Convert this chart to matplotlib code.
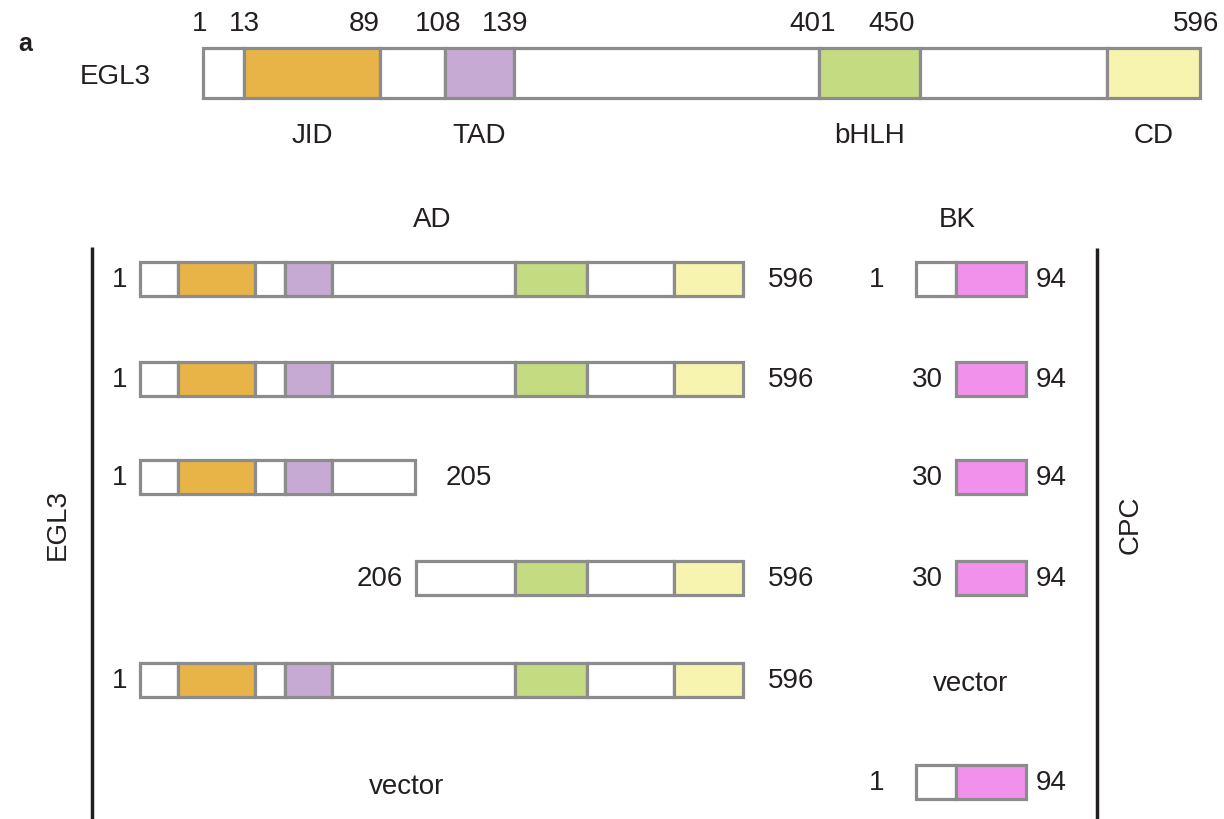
import numpy as np
import matplotlib.pyplot as plt
from matplotlib.patches import Rectangle

plt.rcParams['font.family'] = ['Liberation Sans', 'DejaVu Sans']

# domain map of EGL3 (amino acid positions)
EGL3_LEN = 596
DOMAIN_NAMES = ["JID", "TAD", "bHLH", "CD"]
DOMAIN_START = [13, 108, 401, 540]
DOMAIN_END = [89, 139, 450, 596]
DOMAIN_COLORS = ["#E8B447", "#C6AAD3", "#C4DB82", "#F7F4B0"]
TOP_TICKS = [1, 13, 89, 108, 139, 401, 450, 596]

# constructs for AD (EGL3) and BK (CPC)
AD_CONSTRUCTS = [(1, 596), (1, 596), (1, 205), (206, 596), (1, 596), None]
BK_CONSTRUCTS = [(1, 94), (30, 94), (30, 94), (30, 94), None, (1, 94)]
CPC_DOMAIN = (30, 94)
CPC_COLOR = "#F291EC"

# schematic (non-proportional) scales: amino acid -> drawing x
TOP_AA = [1, 13, 89, 108, 139, 401, 450, 540, 596]
TOP_X = [203, 244, 380, 445, 514, 819, 920, 1107, 1200]
LOW_AA = [1, 13, 89, 108, 139, 205, 401, 450, 540, 596]
LOW_X = [140, 178, 255, 285, 332, 415, 515, 587, 674, 743]
CPC_AA = [1, 30, 94]
CPC_X = [916, 956, 1026]

EDGE = "#8C8C8C"
TXT = "#231F20"
FS = 20


def draw_construct(ax, start, end, y, h, aa, xs, domains):
    sx = lambda v: np.interp(v, aa, xs)
    cuts = sorted(set([start, end] + [p for d in domains for p in d[:2] if start < p < end]))
    for a, b in zip(cuts[:-1], cuts[1:]):
        col = "white"
        for d0, d1, c in domains:
            if a >= d0 and b <= d1:
                col = c
        ax.add_patch(Rectangle((sx(a), y - h / 2), sx(b) - sx(a), h,
                               facecolor=col, edgecolor=EDGE, lw=2.3))


fig = plt.figure(figsize=(12.24, 8.2), dpi=100)
ax = fig.add_axes([0, 0, 1, 1])
ax.set_xlim(0, 1224)
ax.set_ylim(820, 0)
ax.axis('off')

egl3_domains = list(zip(DOMAIN_START, DOMAIN_END, DOMAIN_COLORS))
draw_construct(ax, 1, EGL3_LEN, 74, 50, TOP_AA, TOP_X, egl3_domains)

ax.text(18, 44, "a", fontsize=FS - 2, fontweight='bold', color=TXT, ha='left', va='center')
ax.text(115, 77, "EGL3", fontsize=FS, color=TXT, ha='center', va='center')
tick_off = {1: -3, 13: 0, 89: -16, 108: -7, 139: -9, 401: -6, 450: -28, 596: -4}
for t in TOP_TICKS:
    ax.text(np.interp(t, TOP_AA, TOP_X) + tick_off[t], 24, str(t), fontsize=FS,
            color=TXT, ha='center', va='center')
for name, s, e in zip(DOMAIN_NAMES, DOMAIN_START, DOMAIN_END):
    xc = (np.interp(s, TOP_AA, TOP_X) + np.interp(e, TOP_AA, TOP_X)) / 2
    ax.text(xc, 136, name, fontsize=FS, color=TXT, ha='center', va='center')

ax.text(432, 220, "AD", fontsize=FS, color=TXT, ha='center', va='center')
ax.text(957, 220, "BK", fontsize=FS, color=TXT, ha='center', va='center')

ax.plot([92, 92], [248, 820], color=TXT, lw=2.5, solid_capstyle='butt')
ax.plot([1097, 1097], [249, 820], color=TXT, lw=2.5, solid_capstyle='butt')
ax.text(58, 525, "EGL3", fontsize=FS, color=TXT, rotation=90, ha='center', va='center')
ax.text(1131, 525, "CPC", fontsize=FS, color=TXT, rotation=90, ha='center', va='center')

row_y = [280, 380, 478, 579, 681, 783]
for y, c in zip(row_y, AD_CONSTRUCTS):
    if c is None:
        ax.text(407, y + 4, "vector", fontsize=FS, color=TXT, ha='center', va='center')
        continue
    s, e = c
    draw_construct(ax, s, e, y, 34, LOW_AA, LOW_X, egl3_domains)
    ax.text(np.interp(s, LOW_AA, LOW_X) - 13, y, str(s), fontsize=FS, color=TXT,
            ha='right', va='center')
    ax.text(np.interp(e, LOW_AA, LOW_X) + (31 if e == 205 else 25), y, str(e),
            fontsize=FS, color=TXT, ha='left', va='center')

for y, c in zip(row_y, BK_CONSTRUCTS):
    if c is None:
        ax.text(971, y + 3, "vector", fontsize=FS, color=TXT, ha='center', va='center')
        continue
    s, e = c
    draw_construct(ax, s, e, y, 34, CPC_AA, CPC_X, [CPC_DOMAIN + (CPC_COLOR,)])
    lx = 884 if s == 1 else np.interp(s, CPC_AA, CPC_X) - 13
    ax.text(lx, y, str(s), fontsize=FS, color=TXT, ha='right', va='center')
    ax.text(np.interp(e, CPC_AA, CPC_X) + 10, y, str(e), fontsize=FS, color=TXT,
            ha='left', va='center')

fig.savefig("out.png", dpi=100)
